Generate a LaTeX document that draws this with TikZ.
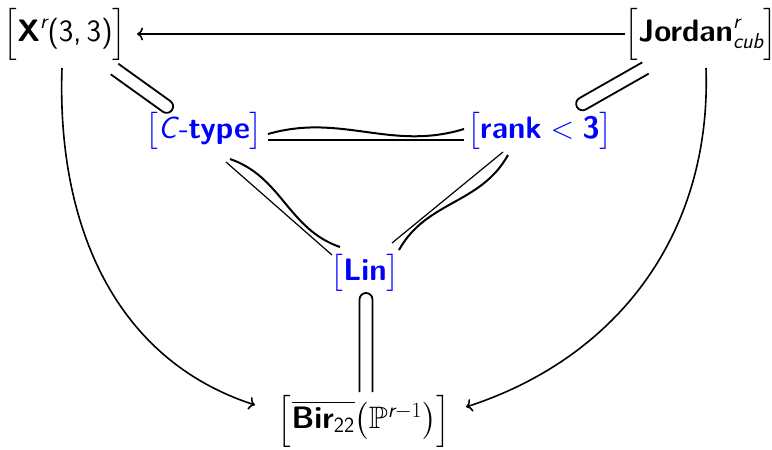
\RequirePackage{fix-cm}
\documentclass[tikz,border=0pt]{standalone}
\usepackage{amsmath,amssymb}
\usetikzlibrary{calc,arrows.meta}
\newcommand\lbrk{{\fontsize{29}{34}\selectfont$\Bigl[$}}
\newcommand\rbrk{{\fontsize{29}{34}\selectfont$\Bigr]$}}
\newcommand\inclusion[2]{%
  \draw[incl] let \p1=($(#2)-(#1)$), \n1={atan2(\y1,\x1)} in
    ($(#1)!6.5pt!90:(#2)$) -- ($(#2)!6.5pt!-90:(#1)$)
    arc[start angle=\n1+90, end angle=\n1-90, radius=6.5pt]
    -- ($(#1)!6.5pt!-90:(#2)$);}
\tikzset{
  lbl/.style={inner sep=0pt, font=\fontsize{31}{36}\selectfont\sffamily},
  blu/.style={lbl, text=blue},
  arr/.style={line width=1.6pt, -{To[length=6pt,width=13pt]}},
  incl/.style={line width=1.8pt, line join=round},
  strt/.style={line width=1.2pt},
  wavy/.style={line width=2pt},
}
\begin{document}
\begin{tikzpicture}[x=1pt,y=1pt]
\useasboundingbox (0,0) rectangle (772,-450);
\node[lbl] (x) at (65,-34) {\lbrk$\text{\textbf{X}}^{\text{\itshape r}}\text{(3,\,3)}$\rbrk};
\node[lbl] (jordan) at (701,-34) {\lbrk$\text{\textbf{Jordan}}^{\text{\itshape r}}_{\text{\itshape cub}}$\rbrk};
\node[blu] (ctype) at (204,-131) {$\bigl[\text{\textit{C}-\textbf{type}}\bigr]$};
\node[blu] (rank) at (540,-131) {$\bigl[\text{\textbf{rank}} < \text{\textbf{3}}\bigr]$};
\node[blu] (lin) at (365,-273) {$\bigl[\text{\textbf{Lin}}\bigr]$};
\node[lbl] (bir) at (364,-421) {\lbrk$\overline{\text{\textbf{Bir}}_{\text{22}}}\bigl(\mathbb{P}^{\text{\itshape r}-1}\bigr)$\rbrk};
% arrows
\draw[arr] ($(jordan)+(-76,0)$) -- ($(x)+(72,0)$);
\draw[arr] ($(x)+(-3,-34)$) to[out=-92, in=162] ($(bir)+(-109,16)$);
\draw[arr] ($(jordan)+(5,-34)$) to[out=-88, in=18] ($(bir)+(102,14)$);
% inclusions
\coordinate (i1a) at ($(x)+(49.5,-35)$);
\coordinate (i1b) at ($(ctype)+(-37.4,24.6)$);
\inclusion{i1a}{i1b}
\coordinate (i2a) at ($(jordan)+(-55.5,-34)$);
\coordinate (i2b) at ($(rank)+(42.6,27.2)$);
\inclusion{i2a}{i2b}
\coordinate (i3a) at ($(bir)+(2,29)$);
\coordinate (i3b) at ($(lin)+(1,-26.5)$);
\inclusion{i3a}{i3b}
% wavy equivalences
\draw[strt] ($(ctype)+(64,-9)$) -- ($(rank)+(-76,-9)$);
\draw[wavy] ($(ctype)+(64,-3)$) to[out=16, in=197] ($(rank)+(-76,2)$);
\draw[strt] ($(ctype)+(22,-31)$) -- ($(lin)+(-33,18)$);
\draw[wavy] ($(ctype)+(26,-28)$) to[out=-19, in=161] ($(lin)+(-25,26)$);
\draw[strt] ($(rank)+(-37,-21)$) -- ($(lin)+(27,30)$);
\draw[wavy] ($(rank)+(-32,-24)$) to[out=241, in=61] ($(lin)+(34,23)$);
\end{tikzpicture}
\end{document}
